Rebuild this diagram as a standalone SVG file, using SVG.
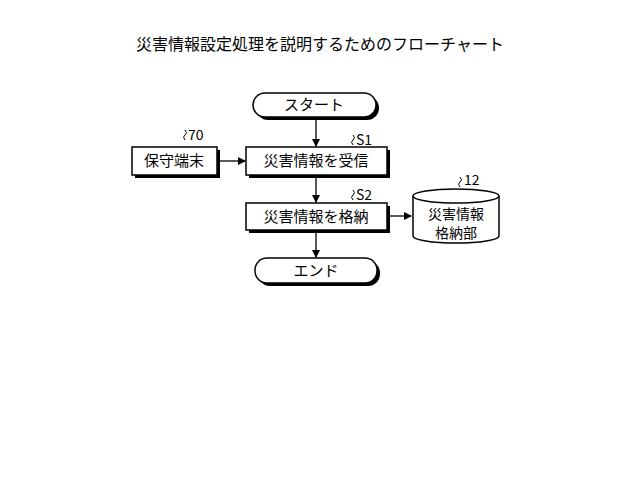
<svg xmlns="http://www.w3.org/2000/svg" width="640" height="503" viewBox="0 0 640 503">
<style>
text{font-family:"Noto Sans CJK JP","Liberation Sans",sans-serif;fill:#000}
.n{fill:#fff;stroke:#000;stroke-width:1.5}
.s{fill:#000}
.t{font-size:15px;text-anchor:middle}
.d{font-size:14px;text-anchor:middle}
.l{font-size:14px}
.c{stroke:#000;stroke-width:1.3;fill:none}
.w{stroke:#000;stroke-width:1;fill:none}
</style>
<defs><marker id="a" markerWidth="8" markerHeight="8" refX="7" refY="4" orient="auto" markerUnits="userSpaceOnUse"><path d="M0,0L8,4L0,8z"/></marker></defs>
<rect width="640" height="503" fill="#fff"/>
<text x="320" y="50" class="t" style="font-size:16px">災害情報設定処理を説明するためのフローチャート</text>
<g id="start"><rect x="256" y="96" width="123" height="24" rx="12" class="s"/><rect x="253" y="93" width="123" height="24" rx="12" class="n"/><text x="314" y="110" class="t">スタート</text></g>
<g id="term"><rect x="135" y="150" width="85" height="28" class="s"/><rect x="132" y="147" width="85" height="28" class="n"/><text x="174" y="166" class="t">保守端末</text><path d="M185,140 q-3,-3 0,-5 q3,-2 0,-5" class="w"/><text x="188" y="140" class="l">70</text></g>
<g id="s1"><rect x="249" y="150" width="141" height="28" class="s"/><rect x="246" y="147" width="141" height="28" class="n"/><text x="316" y="166" class="t">災害情報を受信</text><path d="M353,145 q-3,-3 0,-5 q3,-2 0,-5" class="w"/><text x="356" y="145" class="l">S1</text></g>
<g id="s2"><rect x="249" y="206" width="141" height="27" class="s"/><rect x="246" y="203" width="141" height="27" class="n"/><text x="316" y="222" class="t">災害情報を格納</text><path d="M353,200 q-3,-3 0,-5 q3,-2 0,-5" class="w"/><text x="356" y="200" class="l">S2</text></g>
<g id="db"><path d="M413,196 v40 a43,7 0 0 0 86,0 v-40" class="n"/><ellipse cx="456" cy="196" rx="43" ry="7" class="n"/><text x="456" y="219" class="d">災害情報</text><text x="456" y="238" class="d">格納部</text><path d="M460,187 q-3,-3 0,-5 q3,-2 0,-5" class="w"/><text x="464" y="185" class="l">12</text></g>
<g id="end"><rect x="258" y="261" width="122" height="25" rx="12" class="s"/><rect x="255" y="258" width="122" height="25" rx="12" class="n"/><text x="316" y="276" class="t">エンド</text></g>
<g id="connectors">
<path d="M316,120V146" class="c" marker-end="url(#a)"/>
<path d="M220,161H245" class="c" marker-end="url(#a)"/>
<path d="M316,178V202" class="c" marker-end="url(#a)"/>
<path d="M390,216H411" class="c" marker-end="url(#a)"/>
<path d="M316,233V257" class="c" marker-end="url(#a)"/>
</g>
</svg>
